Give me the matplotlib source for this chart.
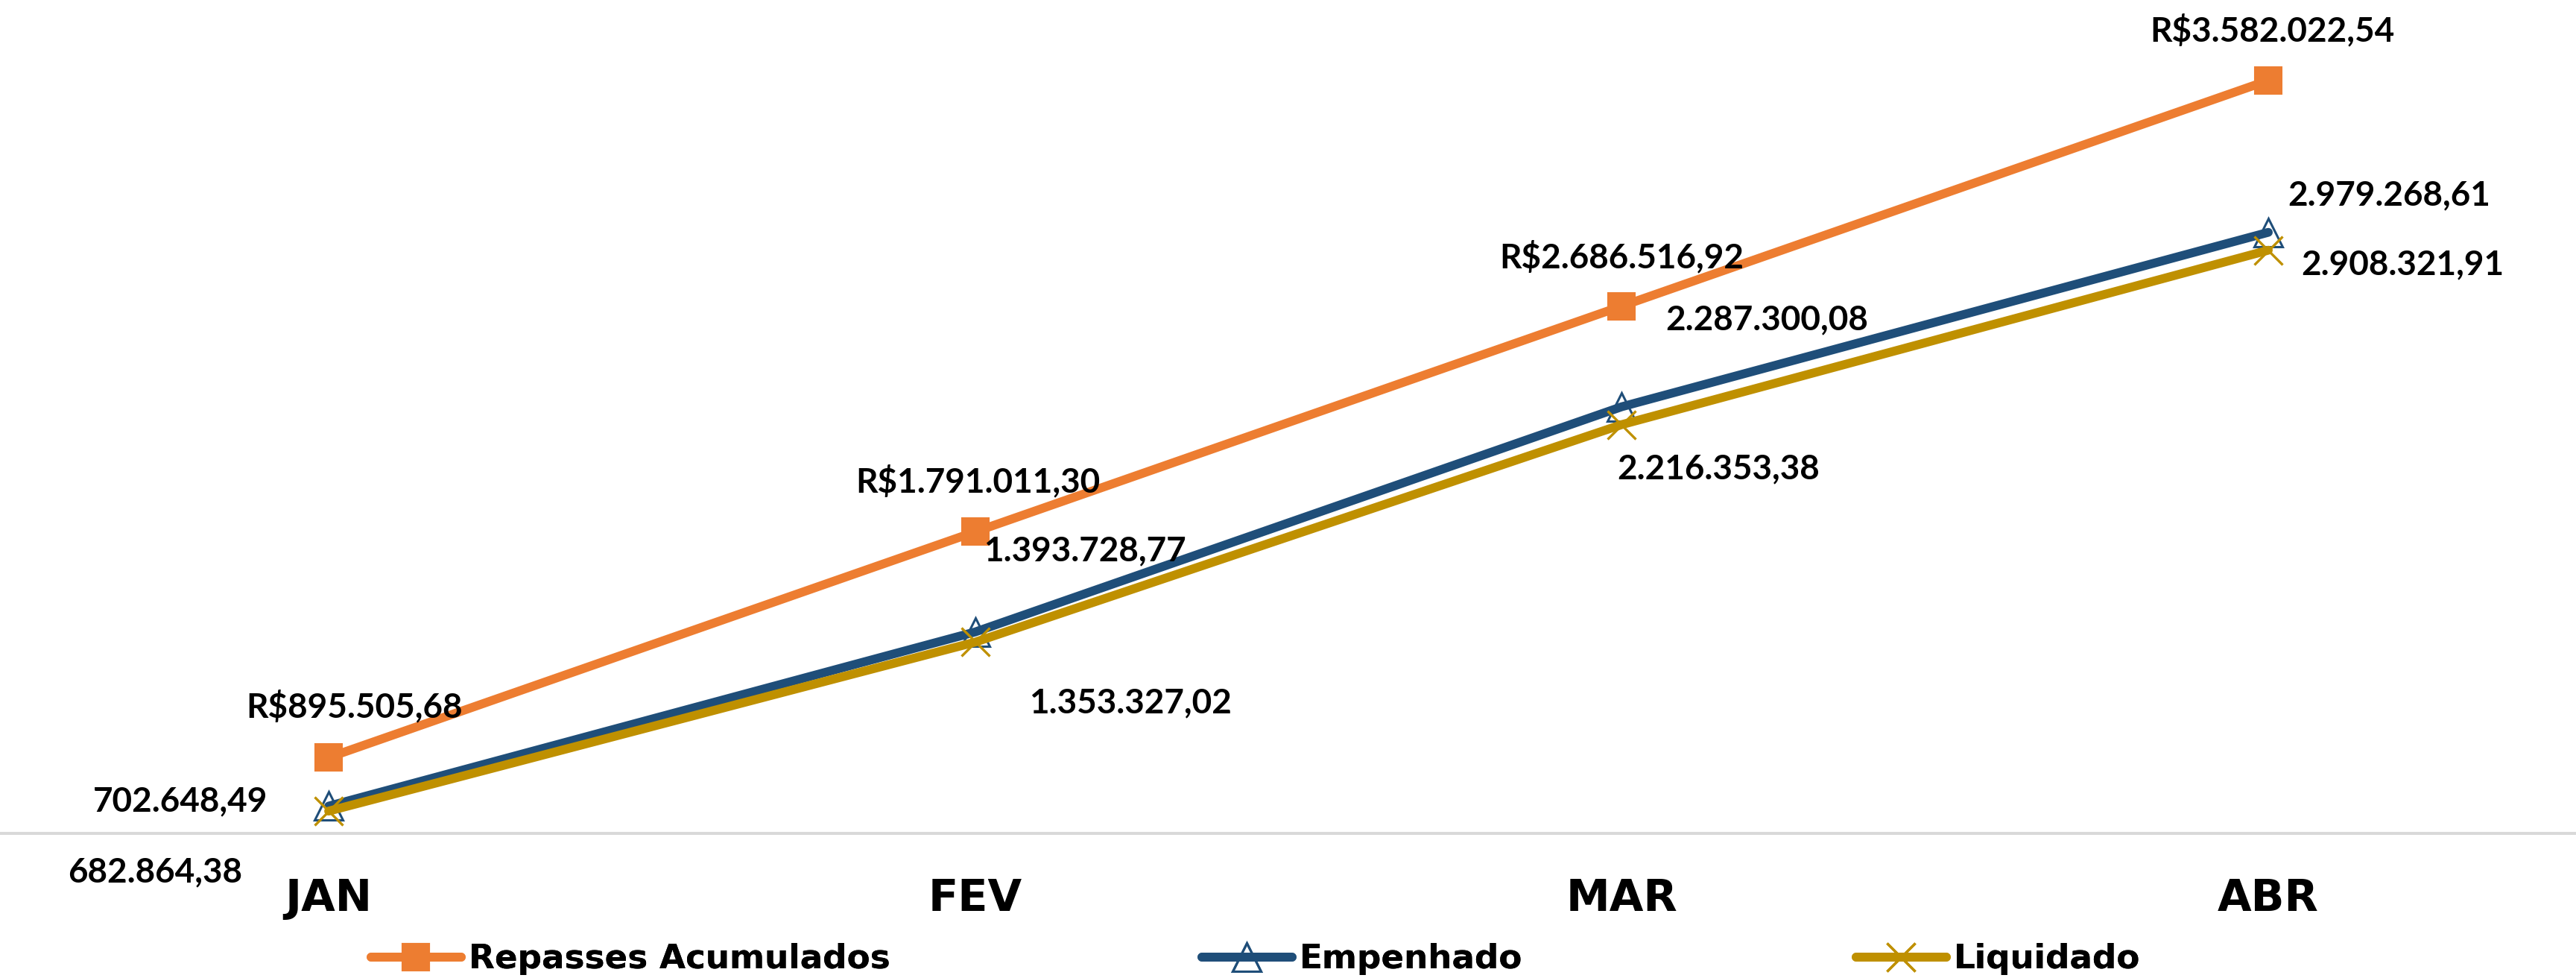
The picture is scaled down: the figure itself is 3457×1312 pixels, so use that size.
import matplotlib
matplotlib.use("Agg")
import matplotlib.pyplot as plt

# ---------------- data ----------------
months = ["JAN", "FEV", "MAR", "ABR"]
repasses = [895505.68, 1791011.30, 2686516.92, 3582022.54]
empenhado = [702648.49, 1393728.77, 2287300.08, 2979268.61]
liquidado = [682864.38, 1353327.02, 2216353.38, 2908321.91]
series_names = ["Repasses Acumulados", "Empenhado", "Liquidado"]

# ---------------- styles ----------------
C_ORANGE = "#ED7D31"
C_BLUE = "#1F4E79"
C_GOLD = "#BF9000"
LW = 8.5
LABEL_FONT = dict(family="Lato", weight="bold", size=33, color="black")
TICK_FONT = dict(family="DejaVu Sans", weight="bold", size=42.5)
LEG_SIZE = 32.6

# label offsets (pixels, up positive) relative to the marker -> visual centre of text
off_rep = [(35, 70), (4, 69), (0, 67), (5, 68)]
off_emp = [(-199, 9), (147, 111), (195, 119), (162, 52)]
off_liq = [(-233, -79), (208, -79), (130, -57), (180, -17)]
BASELINE_SHIFT = 16  # visual centre -> baseline


def br(v, prefix=""):
    s = f"{v:,.2f}"
    s = s.replace(",", "X").replace(".", ",").replace("X", ".")
    return prefix + s


W, H = 3457, 1312
fig = plt.figure(figsize=(W / 100, H / 100), dpi=100)
axis_px = 1118
ax = fig.add_axes([0, (H - axis_px) / H, 1, axis_px / H])

x = list(range(len(months)))
l1, = ax.plot(x, repasses, color=C_ORANGE, lw=LW, marker="s", markersize=26,
              markerfacecolor=C_ORANGE, markeredgecolor=C_ORANGE, markeredgewidth=1.5,
              clip_on=False, zorder=3, solid_capstyle="round")
l2, = ax.plot(x, empenhado, color=C_BLUE, lw=LW, marker="^", markersize=27,
              markerfacecolor="none", markeredgecolor=C_BLUE, markeredgewidth=2.2,
              clip_on=False, zorder=3, solid_capstyle="round")
l3, = ax.plot(x, liquidado, color=C_GOLD, lw=LW, marker="x", markersize=27,
              markeredgecolor=C_GOLD, markeredgewidth=2.4,
              clip_on=False, zorder=4, solid_capstyle="round")

step = 867.7
x0 = 441
ax.set_xlim(-x0 / step, (W - x0) / step)
units_per_px = 2957.6
zero_px = 1319
ax.set_ylim((zero_px - axis_px) * units_per_px, zero_px * units_per_px)

for sp in ["left", "right", "top"]:
    ax.spines[sp].set_visible(False)
ax.spines["bottom"].set_color("#D9D9D9")
ax.spines["bottom"].set_linewidth(2.9)
ax.set_yticks([])
ax.set_xticks(x)
ax.set_xticklabels(months, **TICK_FONT)
ax.tick_params(axis="x", length=0, pad=42.5)

for vals, offs, prefix in [(repasses, off_rep, "R$"), (empenhado, off_emp, ""),
                           (liquidado, off_liq, "")]:
    for xi, v, (dx, dy) in zip(x, vals, offs):
        ax.annotate(br(v, prefix), (xi, v), xytext=(dx, dy - BASELINE_SHIFT),
                    textcoords="offset pixels", ha="center", va="baseline",
                    annotation_clip=False, zorder=5, **LABEL_FONT)

# legend: three separate entries
leg_y = (H - 1287) / H
for line, name, xpx in [(l1, series_names[0], 498), (l2, series_names[1], 1613),
                        (l3, series_names[2], 2491)]:
    lg = fig.legend([line], [name], loc="center left", bbox_to_anchor=(xpx / W, leg_y),
                    frameon=False, borderpad=0, borderaxespad=0, handlelength=2.67,
                    handletextpad=0.22, prop=dict(family="DejaVu Sans", weight="bold",
                                                   size=LEG_SIZE))
    fig.add_artist(lg)

fig.savefig("out.png", dpi=100, facecolor="white")
